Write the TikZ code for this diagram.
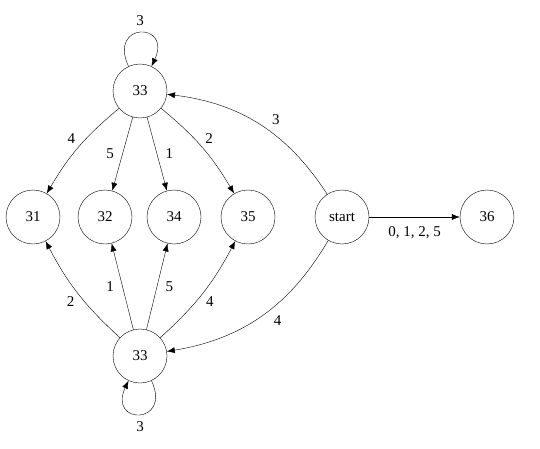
\documentclass[tikz,border=0pt]{standalone}
\usepackage{fontspec}
\setmainfont{Liberation Serif}
\usetikzlibrary{positioning,arrows.meta}

\begin{document}
\begin{tikzpicture}[x=1pt, y=1pt,
    font=\fontsize{15}{18}\selectfont,
    statenode/.style={circle, draw=black, minimum size=54pt, inner sep=0pt},
    trans/.style={-{Latex[length=8pt,width=6pt]}, draw=black, thin}
    ]
        \useasboundingbox (0,0) rectangle (540,448);
        %Nodes
        \node[statenode] (top33)   at (140,357) {33};
        \node[statenode] (s31)     at (33,231)  {31};
        \node[statenode] (s32)     at (105,231) {32};
        \node[statenode] (s34)     at (174,231) {34};
        \node[statenode] (s35)     at (248,231) {35};
        \node[statenode] (start)   at (342,231) {start};
        \node[statenode] (s36)     at (487,231) {36};
        \node[statenode] (bot33)   at (140,92)  {33};

        %Loops
        \draw[trans] (top33) to[out=115, in=65, looseness=5.5]
            node[above=4pt] {3} (top33);
        \draw[trans] (bot33) to[out=-65, in=-115, looseness=5.5]
            node[below=4pt] {3} (bot33);

        %Lines from the top
        \draw[trans] (top33) to[bend right=10] node[above left, pos=0.5] {4} (s31);
        \draw[trans] (top33) -- node[left=5pt] {5} (s32);
        \draw[trans] (top33) -- node[right=5pt] {1} (s34);
        \draw[trans] (top33) to[bend left=10] node[above right, pos=0.5] {2} (s35);

        %Lines from the bottom
        \draw[trans] (bot33) to[bend left=10] node[below left, pos=0.5] {2} (s31);
        \draw[trans] (bot33) -- node[left=5pt] {1} (s32);
        \draw[trans] (bot33) -- node[right=5pt] {5} (s34);
        \draw[trans] (bot33) to[bend right=10] node[below right, pos=0.5] {4} (s35);

        %Lines from start
        \draw[trans] (start) to[bend right=25] node[above right=2pt, pos=0.45] {3} (top33);
        \draw[trans] (start) to[bend left=25] node[below right=2pt, pos=0.45] {4} (bot33);
        \draw[trans] (start) -- node[below=6pt] {0, 1, 2, 5} (s36);
    \end{tikzpicture}
\end{document}
